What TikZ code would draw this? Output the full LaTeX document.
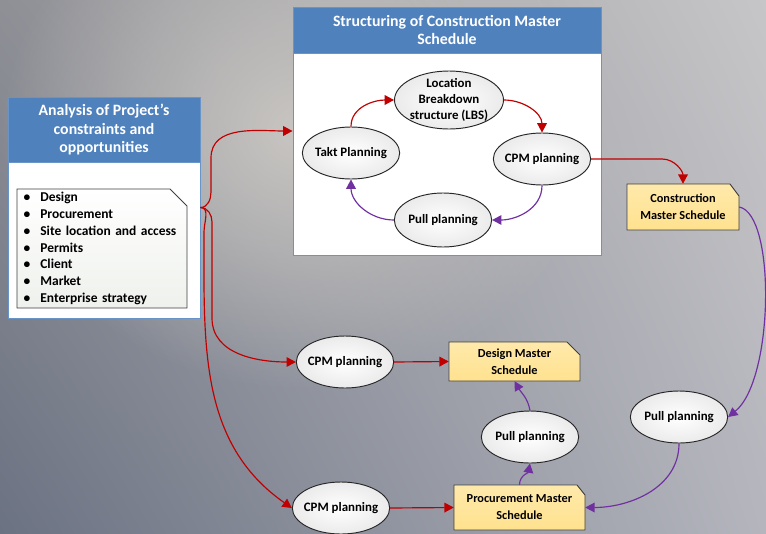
\documentclass[tikz,border=0pt]{standalone}
\usepackage{fontspec}
\setmainfont{Carlito}
\usetikzlibrary{arrows.meta}
\usetikzlibrary{shapes.geometric, shadings, fadings}

\definecolor{hdrblue}{HTML}{4F81BD}
\definecolor{linkred}{HTML}{C00000}
\definecolor{linkpurple}{HTML}{7030A0}
\definecolor{schedyellow}{HTML}{FFE28F}
\definecolor{bgtl}{RGB}{143,144,150}
\definecolor{bgtr}{RGB}{198,197,199}
\definecolor{bgbl}{RGB}{107,114,130}
\definecolor{bgbr}{RGB}{180,181,189}
\definecolor{bglight}{RGB}{200,197,193}
\definecolor{notefoot}{RGB}{238,241,236}

\tikzfading[name=glow, inner color=transparent!0, outer color=transparent!100]

\tikzset{
  panel/.style={draw=hdrblue!85, line width=0.8pt, fill=white},
  header/.style={draw=hdrblue!85, line width=0.8pt, fill=hdrblue, text=white, align=center, inner sep=0pt,
    font=\fontsize{13.5}{15.4}\selectfont\bfseries},
  bubble/.style={ellipse, draw=black!85, line width=0.8pt, inner color=white, outer color=black!8,
    minimum width=2.92cm, minimum height=1.56cm},
  notefill/.style={draw=black!75, line width=0.8pt, top color=white, bottom color=notefoot},
  schedfill/.style={draw=black!75, line width=0.8pt, top color=schedyellow!75, bottom color=schedyellow},
  schedule/.style={align=center, inner sep=0pt, font=\fontsize{10.5}{14.5}\selectfont\bfseries},
  redlink/.style={draw=linkred, line width=1pt, -{Triangle[length=2.8mm,width=2.9mm]}},
  purplelink/.style={draw=linkpurple, line width=1pt, -{Triangle[length=2.8mm,width=2.9mm]}}
}

\begin{document}
\begin{tikzpicture}[x=0.03cm, y=0.03cm, font=\fontsize{11}{13.5}\selectfont\bfseries]
  \useasboundingbox (0,0) rectangle (766,-533);
  % backdrop
  \begin{scope}
    \clip (0,0) rectangle (766,-533);
    \shade[upper left=bgtl, upper right=bgtr, lower left=bgbl, lower right=bgbr] (0,0) rectangle (766,-533);
    \fill[bglight, path fading=glow] (300,-130) ellipse (300 and 260);
  \end{scope}

  % constraints panel
  \node[panel, minimum width=5.76cm, minimum height=6.63cm] (analysis) at (104,-207.5) {};
  \node[header, minimum width=5.76cm, minimum height=1.95cm, anchor=north] (analysishead) at (analysis.north)
    {Analysis of Project’s\\constraints and\\opportunities};
  \path[notefill] (17,-189) -- (170,-189) -- (187,-206) -- (187,-308) -- (17,-308) -- cycle;
  \node[minimum width=5.1cm, minimum height=3.57cm, text width=4.7cm, align=left, inner xsep=0.2cm,
        inner ysep=0pt, font=\fontsize{11.5}{14.3}\selectfont\bfseries] (factors) at (102,-248.5)
    {\makebox[0.5cm][l]{\textbullet}Design\\
     \makebox[0.5cm][l]{\textbullet}Procurement\\
     \makebox[0.5cm][l]{\textbullet}Site location and access\\
     \makebox[0.5cm][l]{\textbullet}Permits\\
     \makebox[0.5cm][l]{\textbullet}Client\\
     \makebox[0.5cm][l]{\textbullet}Market\\
     \makebox[0.5cm][l]{\textbullet}Enterprise strategy};

  % construction schedule panel
  \node[panel, minimum width=9.24cm, minimum height=7.44cm] (structure) at (447,-131) {};
  \node[header, minimum width=9.24cm, minimum height=1.38cm, anchor=north] (structurehead) at (structure.north)
    {Structuring of Construction Master\\Schedule};

  \node[bubble, minimum width=3.27cm, minimum height=1.74cm,
        label={[align=center]center:Location\\Breakdown\\structure (LBS)}] (lbs) at (449,-100) {};
  \node[bubble, label=center:Takt Planning] (takt) at (351,-153) {};
  \node[bubble, label=center:CPM planning] (cpm) at (542,-159) {};
  \node[bubble, minimum height=1.62cm, label=center:Pull planning] (pull) at (443,-220) {};

  \draw[redlink] (takt.north) to[out=90, in=180] (lbs.west);
  \draw[redlink] (lbs.east) to[out=0, in=90] (cpm.north);
  \draw[purplelink] (cpm.south) to[out=-90, in=0] (pull.east);
  \draw[purplelink] (pull.west) to[out=180, in=-90] (takt.south);

  % schedules
  \path[schedfill] (627,-184) -- (730,-184) -- (739,-196) -- (739,-230) -- (627,-230) -- cycle;
  \node[schedule, minimum width=3.36cm, minimum height=1.38cm] (cms) at (683,-207) {Construction\\Master Schedule};
  \path[schedfill] (449,-342) -- (567,-342) -- (580,-355) -- (580,-381) -- (449,-381) -- cycle;
  \node[schedule, minimum width=3.93cm, minimum height=1.17cm] (dms) at (514.5,-361.5) {Design Master\\Schedule};
  \path[schedfill] (454,-485) -- (577,-485) -- (585,-495) -- (585,-530) -- (454,-530) -- cycle;
  \node[schedule, minimum width=3.93cm, minimum height=1.35cm] (pms) at (519.5,-507.5) {Procurement Master\\Schedule};

  \node[bubble, label=center:CPM planning] (cpmdesign) at (345,-362) {};
  \node[bubble, label=center:CPM planning] (cpmproc) at (341,-508) {};
  \node[bubble, label=center:Pull planning] (pullmid) at (530,-437) {};
  \node[bubble, label=center:Pull planning] (pullcms) at (679,-417) {};

  % links out of the constraints panel
  \draw[redlink] (analysis.east) to[out=0, in=-90] (211,-192) -- (211,-158) to[out=90, in=180] (structure.west);
  \draw[redlink] (analysis.east) to[out=0, in=90] (212,-222) -- (212,-318) to[out=-90, in=180] (cpmdesign.west);
  \draw[redlink] (analysis.east) to[out=0, in=90] (204,-232) to[out=-90, in=145] (cpmproc.west);

  \draw[redlink] (cpm.east) -- (662,-159) to[out=0, in=90] (cms.north);
  \draw[purplelink] (cms.east) .. controls (776,-214) and (774,-380) .. (pullcms.east);
  \draw[purplelink] (pullcms.south) to[out=-90, in=0] (pms.east);

  \draw[redlink] (cpmdesign.east) -- (dms.west);
  \draw[redlink] (cpmproc.east) -- (pms.west);
  \draw[purplelink] (pms.north) to[out=90, in=-100] (pullmid.south);
  \draw[purplelink] (pullmid.north) to[out=100, in=-60] (dms.south);
\end{tikzpicture}
\end{document}
